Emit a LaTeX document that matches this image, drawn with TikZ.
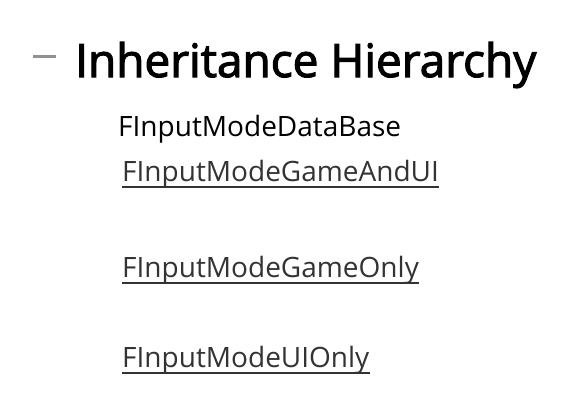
\documentclass[tikz,border=0pt]{standalone}
\usepackage{fontspec}
\setmainfont{Open Sans}
\definecolor{linkgray}{HTML}{333333}
\definecolor{dashgray}{HTML}{909090}
\tikzset{
  title/.style={anchor=base west, inner sep=0pt, font=\fontsize{46}{56}\selectfont\addfontfeatures{FakeBold=2.4}},
  plain/.style={anchor=base west, inner sep=0pt, font=\fontsize{28}{32}\selectfont, text=black},
  link/.style={anchor=base west, inner sep=0pt, font=\fontsize{28}{32}\selectfont, text=linkgray},
  uline/.style={draw=linkgray, line width=2pt},
}
\begin{document}
\begin{tikzpicture}[x=1pt,y=-1pt]
\useasboundingbox (0,0) rectangle (564,410);
\draw[dashgray, line width=3pt] (33,56) coordinate (d1) -- (56,56) coordinate (d2);
\node[title] (t) at (75,77) {Inheritance Hierarchy};
\node[plain] (base) at (118,136) {FInputModeDataBase};
\node[link] (l1) at (122,181) {FInputModeGameAndUI};
\node[link] (l2) at (122,277) {FInputModeGameOnly};
\node[link] (l3) at (122,367) {FInputModeUIOnly};
\foreach \n in {l1,l2,l3}{
  \draw[uline] ([yshift=-5.5pt]\n.base west) -- ([yshift=-5.5pt]\n.base east);
}
\end{tikzpicture}
\end{document}
